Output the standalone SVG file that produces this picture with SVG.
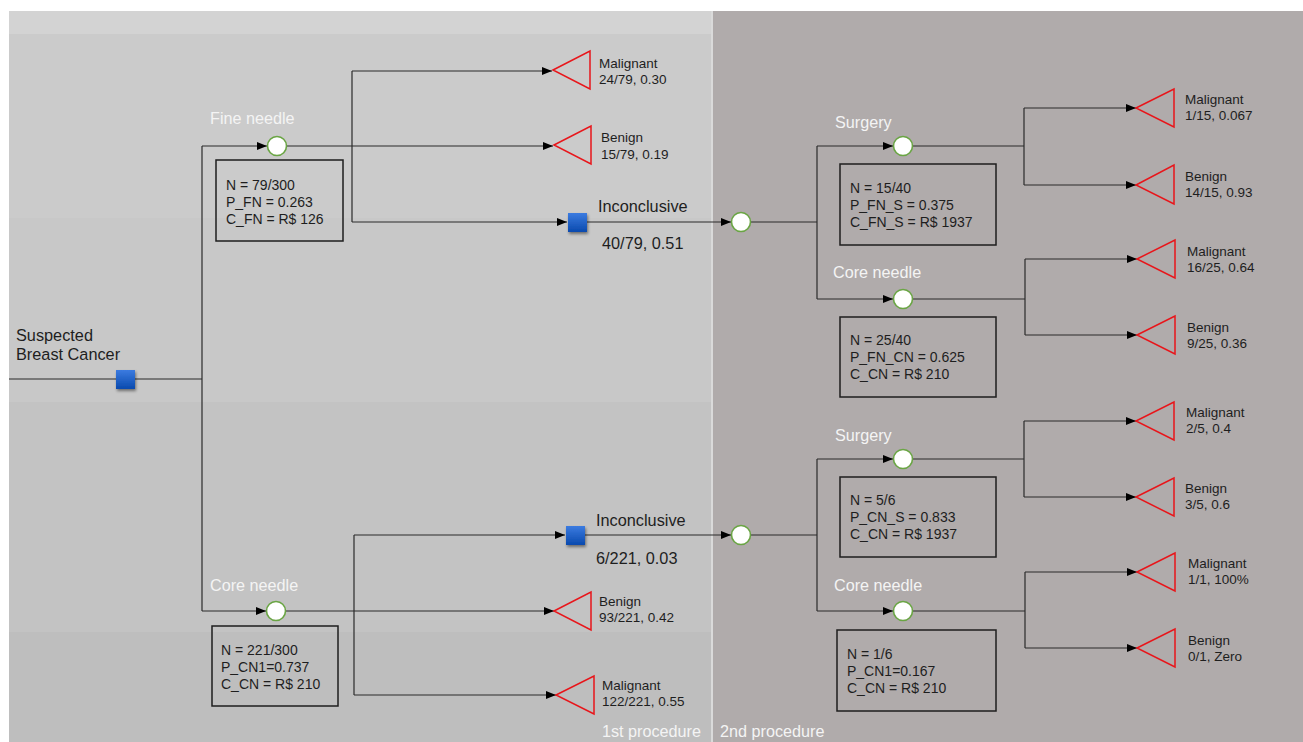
<svg xmlns="http://www.w3.org/2000/svg" width="1303" height="742" viewBox="0 0 1303 742">
<defs>
<marker id="arr" markerUnits="userSpaceOnUse" markerWidth="10" markerHeight="8" refX="10" refY="4" orient="auto">
<path d="M0,0 L10,4 L0,8 z" fill="#000"/>
</marker>
<linearGradient id="blue" x1="0" y1="0" x2="0" y2="1">
<stop offset="0" stop-color="#3b7be0"/>
<stop offset="1" stop-color="#0a4aae"/>
</linearGradient>
<filter id="sh" x="-50%" y="-50%" width="200%" height="200%">
<feDropShadow dx="1" dy="2" stdDeviation="1.5" flood-color="#000" flood-opacity="0.45"/>
</filter>
<style>
.ln{fill:none;stroke:#2b2b2b;stroke-width:1.2}
.ar{marker-end:url(#arr)}
.chance{fill:#fff;stroke:#6aa544;stroke-width:1.6}
.term{fill:none;stroke:#e8161b;stroke-width:1.5}
.dec{fill:url(#blue);filter:url(#sh)}
.box{fill:none;stroke:#1e1e1e;stroke-width:1.5}
.t{font-family:"Liberation Sans",Arial,sans-serif;fill:#1e1e1e}
.s12{font-size:13.5px}
.s13{font-size:14px}
.s15{font-size:16.3px}
.w{font-family:"Liberation Sans",Arial,sans-serif;fill:#f4f4f4;font-size:16.2px}
</style>
</defs>
<!-- background -->
<rect x="0" y="0" width="1303" height="742" fill="#ffffff"/>
<rect x="9" y="11" width="702" height="24" fill="#d3d3d3"/>
<rect x="9" y="34" width="702" height="184" fill="#cbcbcb"/>
<rect x="9" y="218" width="702" height="184" fill="#c8c8c8"/>
<rect x="9" y="402" width="702" height="230" fill="#c3c3c3"/>
<rect x="9" y="632" width="702" height="110" fill="#bebebe"/>
<rect x="711" y="11" width="2" height="731" fill="#dadada"/>
<rect x="713" y="11" width="590" height="731" fill="#b0abab"/>

<g id="connectors">
<!-- root -->
<path class="ln" d="M9,379 H202"/>
<path class="ln" d="M202,146 V611"/>
<path class="ln ar" d="M202,146 H267"/>
<path class="ln ar" d="M202,611 H266"/>
<!-- fine needle branch -->
<path class="ln ar" d="M286,146 H553"/>
<path class="ln" d="M352,71 V222"/>
<path class="ln ar" d="M352,71 H552"/>
<path class="ln ar" d="M352,222 H567"/>
<path class="ln ar" d="M587,222 H731"/>
<path class="ln" d="M750,222 H817"/>
<path class="ln" d="M817,146 V299"/>
<path class="ln ar" d="M817,146 H893"/>
<path class="ln ar" d="M817,299 H893"/>
<path class="ln" d="M912,146 H1024"/>
<path class="ln" d="M1024,108 V185"/>
<path class="ln ar" d="M1024,108 H1136"/>
<path class="ln ar" d="M1024,185 H1136"/>
<path class="ln" d="M912,299 H1025"/>
<path class="ln" d="M1025,259 V335"/>
<path class="ln ar" d="M1025,259 H1137"/>
<path class="ln ar" d="M1025,335 H1137"/>
<!-- core needle branch -->
<path class="ln ar" d="M285,611 H554"/>
<path class="ln" d="M354,535 V695"/>
<path class="ln ar" d="M354,535 H565"/>
<path class="ln ar" d="M354,695 H556"/>
<path class="ln ar" d="M585,535 H731"/>
<path class="ln" d="M750,535 H817"/>
<path class="ln" d="M817,459 V611"/>
<path class="ln ar" d="M817,459 H893"/>
<path class="ln ar" d="M817,611 H893"/>
<path class="ln" d="M912,459 H1024"/>
<path class="ln" d="M1024,421 V497"/>
<path class="ln ar" d="M1024,421 H1136"/>
<path class="ln ar" d="M1024,497 H1136"/>
<path class="ln" d="M912,611 H1025"/>
<path class="ln" d="M1025,572 V648"/>
<path class="ln ar" d="M1025,572 H1137"/>
<path class="ln ar" d="M1025,648 H1137"/>
</g>

<g id="root">
<rect class="dec" x="116" y="370" width="19" height="19"/>
<text class="t s15" x="16" y="341">Suspected</text>
<text class="t s15" x="16" y="360">Breast Cancer</text>
</g>

<g id="fine-needle">
<circle class="chance" cx="277" cy="146" r="9.5"/>
<text class="w" x="210" y="124">Fine needle</text>
<rect class="box" x="216" y="160" width="127" height="81"/>
<text class="t s13" x="226" y="190">N = 79/300</text>
<text class="t s13" x="226" y="207">P_FN = 0.263</text>
<text class="t s13" x="226" y="224">C_FN = R$ 126</text>
</g>

<g id="fn-malignant">
<polygon class="term" points="553,70 590,51 590,89"/>
<text class="t s12" x="599" y="68">Malignant</text>
<text class="t s12" x="599" y="84">24/79, 0.30</text>
</g>
<g id="fn-benign">
<polygon class="term" points="554,145 591,126 591,164"/>
<text class="t s12" x="601" y="142">Benign</text>
<text class="t s12" x="601" y="159">15/79, 0.19</text>
</g>
<g id="fn-inconclusive">
<rect class="dec" x="568" y="213" width="19" height="19"/>
<text class="t s15" x="598" y="212">Inconclusive</text>
<text class="t s15" x="602" y="249">40/79, 0.51</text>
</g>
<g id="fn-chance2">
<circle class="chance" cx="741" cy="222" r="9.5"/>
</g>
<g id="fn-surgery">
<circle class="chance" cx="903" cy="146" r="9.5"/>
<text class="w" x="835" y="128">Surgery</text>
<rect class="box" x="840" y="164" width="156" height="81"/>
<text class="t s13" x="850" y="193">N = 15/40</text>
<text class="t s13" x="850" y="210">P_FN_S = 0.375</text>
<text class="t s13" x="850" y="227">C_FN_S = R$ 1937</text>
</g>
<g id="fn-s-malignant">
<polygon class="term" points="1136,108 1174,89 1174,127"/>
<text class="t s12" x="1185" y="104">Malignant</text>
<text class="t s12" x="1185" y="120">1/15, 0.067</text>
</g>
<g id="fn-s-benign">
<polygon class="term" points="1136,185 1174,165 1174,204"/>
<text class="t s12" x="1185" y="181">Benign</text>
<text class="t s12" x="1185" y="197">14/15, 0.93</text>
</g>
<g id="fn-core">
<circle class="chance" cx="903" cy="299" r="9.5"/>
<text class="w" x="833" y="278">Core needle</text>
<rect class="box" x="840" y="317" width="156" height="80"/>
<text class="t s13" x="850" y="345">N = 25/40</text>
<text class="t s13" x="850" y="362">P_FN_CN = 0.625</text>
<text class="t s13" x="850" y="379">C_CN = R$ 210</text>
</g>
<g id="fn-c-malignant">
<polygon class="term" points="1137,259 1175,240 1175,278"/>
<text class="t s12" x="1187" y="256">Malignant</text>
<text class="t s12" x="1187" y="272">16/25, 0.64</text>
</g>
<g id="fn-c-benign">
<polygon class="term" points="1137,335 1175,316 1175,354"/>
<text class="t s12" x="1187" y="332">Benign</text>
<text class="t s12" x="1187" y="348">9/25, 0.36</text>
</g>

<g id="core-needle">
<circle class="chance" cx="276" cy="611" r="9.5"/>
<text class="w" x="210" y="591">Core needle</text>
<rect class="box" x="212" y="626" width="126" height="80"/>
<text class="t s13" x="221" y="655">N = 221/300</text>
<text class="t s13" x="221" y="672">P_CN1=0.737</text>
<text class="t s13" x="221" y="689">C_CN = R$ 210</text>
</g>
<g id="cn-benign">
<polygon class="term" points="554,611 591,592 591,630"/>
<text class="t s12" x="599" y="606">Benign</text>
<text class="t s12" x="599" y="622">93/221, 0.42</text>
</g>
<g id="cn-malignant">
<polygon class="term" points="556,695 594,676 594,714"/>
<text class="t s12" x="602" y="690">Malignant</text>
<text class="t s12" x="602" y="706">122/221, 0.55</text>
</g>
<g id="cn-inconclusive">
<rect class="dec" x="566" y="526" width="19" height="19"/>
<text class="t s15" x="596" y="526">Inconclusive</text>
<text class="t s15" x="596" y="564">6/221, 0.03</text>
</g>
<g id="cn-chance2">
<circle class="chance" cx="741" cy="535" r="9.5"/>
</g>
<g id="cn-surgery">
<circle class="chance" cx="903" cy="459" r="9.5"/>
<text class="w" x="835" y="441">Surgery</text>
<rect class="box" x="840" y="477" width="156" height="80"/>
<text class="t s13" x="850" y="505">N = 5/6</text>
<text class="t s13" x="850" y="522">P_CN_S = 0.833</text>
<text class="t s13" x="850" y="539">C_CN = R$ 1937</text>
</g>
<g id="cn-s-malignant">
<polygon class="term" points="1136,421 1174,402 1174,440"/>
<text class="t s12" x="1186" y="417">Malignant</text>
<text class="t s12" x="1186" y="433">2/5, 0.4</text>
</g>
<g id="cn-s-benign">
<polygon class="term" points="1136,497 1174,478 1174,516"/>
<text class="t s12" x="1185" y="493">Benign</text>
<text class="t s12" x="1185" y="509">3/5, 0.6</text>
</g>
<g id="cn-core">
<circle class="chance" cx="903" cy="611" r="9.5"/>
<text class="w" x="834" y="591">Core needle</text>
<rect class="box" x="837" y="630" width="159" height="81"/>
<text class="t s13" x="847" y="659">N = 1/6</text>
<text class="t s13" x="847" y="676">P_CN1=0.167</text>
<text class="t s13" x="847" y="693">C_CN = R$ 210</text>
</g>
<g id="cn-c-malignant">
<polygon class="term" points="1137,572 1175,553 1175,591"/>
<text class="t s12" x="1188" y="568">Malignant</text>
<text class="t s12" x="1188" y="584">1/1, 100%</text>
</g>
<g id="cn-c-benign">
<polygon class="term" points="1137,648 1175,629 1175,667"/>
<text class="t s12" x="1188" y="645">Benign</text>
<text class="t s12" x="1188" y="661">0/1, Zero</text>
</g>

<g id="panel-labels">
<text class="w" x="602" y="737">1st procedure</text>
<text class="w" x="720" y="737">2nd procedure</text>
</g>
</svg>
